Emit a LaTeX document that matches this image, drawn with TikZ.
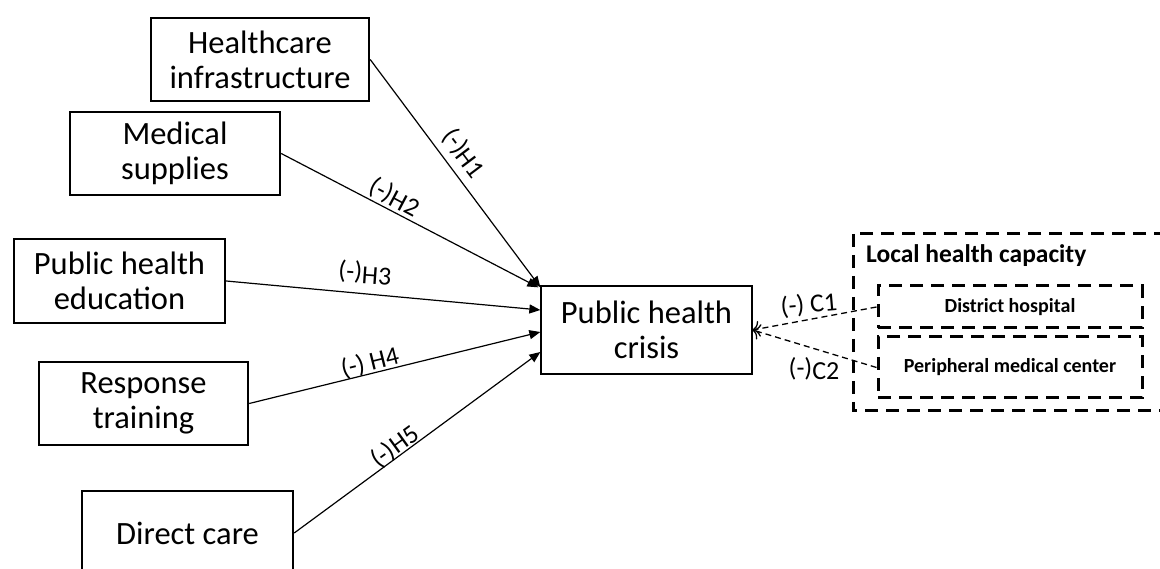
\documentclass[tikz,border=0pt]{standalone}
\usepackage{fontspec}
\setmainfont{Carlito}
\usetikzlibrary{arrows.meta,calc}
\begin{document}
\begin{tikzpicture}[x=1pt,y=-1pt,
  bigbox/.style={draw,line width=2.4pt,align=center,inner sep=0pt,
    font=\fontsize{32.5}{35}\selectfont,minimum height=83pt},
  crisisbox/.style={draw,line width=1.3pt,align=center,inner sep=0pt,
    font=\fontsize{32.5}{35}\selectfont,minimum width=211pt,minimum height=88pt},
  hyp/.style={-{Triangle[length=11pt,width=9pt]},line width=1.2pt},
  lab/.style={font=\fontsize{26}{28}\selectfont,inner sep=0pt},
  dashbox/.style={draw,line width=3pt,dash pattern=on 13pt off 8pt},
  carrow/.style={-{To[length=7pt,width=16pt]},line width=1.3pt,dash pattern=on 6pt off 4pt},
  sublab/.style={font=\bfseries\fontsize{20}{22}\selectfont,inner sep=0pt}]
\clip (0,0) rectangle (1160,569);
\fill[white] (0,0) rectangle (1160,569);

% left boxes
\node[bigbox,minimum width=218pt] (HI) at (260,59.5) {Healthcare\\infrastructure};
\node[bigbox,minimum width=210pt] (MS) at (175,153.5) {Medical\\supplies};
\node[bigbox,minimum width=211pt,minimum height=84pt] (PHE) at (119.5,281) {Public health\\education};
\node[bigbox,minimum width=209pt] (RT) at (143.5,403.5) {Response\\training};
\node[bigbox,minimum width=211pt,minimum height=84pt] (DC) at (187.5,533) {Direct care};

% central box
\node[crisisbox] (PHC) at (646.5,330) {Public health\\crisis};

% local health capacity
\draw[dashbox] (853,234) rectangle (1190,411);
\node[font=\bfseries\fontsize{25.5}{28}\selectfont,inner sep=0pt,anchor=west] (LHC) at (866,256) {Local health capacity};
\node[dashbox,sublab,minimum width=264pt,minimum height=42pt] (DH) at (1010,307) {District hospital};
\node[dashbox,sublab,minimum width=264pt,minimum height=61pt] (PMC) at (1010,367.5) {Peripheral medical center};

% hypotheses arrows
\draw[hyp] (HI.east) -- ($(PHC.north west)+(0,2)$);
\draw[hyp] (MS.east) -- ($(PHC.north west)+(-2,2)$);
\draw[hyp] (PHE.east) -- ($(PHC.west)+(0,-20)$);
\draw[hyp] (RT.east) -- ($(PHC.west)+(0,2)$);
\draw[hyp] (DC.east) -- ($(PHC.west)+(0,22)$);

% control arrows
\draw[carrow] (DH.west) -- (PHC.east);
\draw[carrow] (PMC.west) -- (PHC.east);

% labels
\node[lab,rotate=-53] (L1) at (464,153) {(-)\raisebox{-2pt}{H1}};
\node[lab,rotate=-28] (L2) at (395,197) {(-)\raisebox{-2pt}{H2}};
\node[lab,rotate=-4] (L3) at (365,273) {(-)\raisebox{-3pt}{H3}};
\node[lab,rotate=14] (L4) at (370,363) {(-) H4};
\node[lab,rotate=36] (L5) at (395,447) {(-)H5};
\node[lab,rotate=5] (L6) at (809,305) {(-) C1};
\node[lab] (L7) at (814,369) {(-)\raisebox{-3pt}{C2}};
\end{tikzpicture}
\end{document}
